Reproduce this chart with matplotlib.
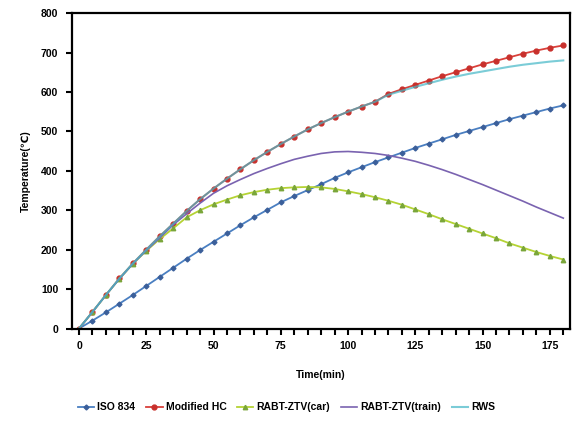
import numpy as np
import matplotlib
matplotlib.use('Agg')
import matplotlib.pyplot as plt
from matplotlib.ticker import MultipleLocator

plt.rcParams['font.family'] = ['Liberation Sans', 'DejaVu Sans']
plt.rcParams['font.weight'] = 'bold'

# time, min (every 5 min)
time = list(range(0, 185, 5))

iso834 = [0, 20, 41, 63, 85, 108, 131, 154, 177, 199, 220, 241, 262, 282, 301, 320,
          336, 351, 366, 382, 396, 409, 422, 434, 446, 458, 469, 480, 491, 501, 511,
          521, 531, 540, 549, 558, 566]
modified_hc = [0, 42, 85, 127, 165, 200, 234, 266, 298, 328, 355, 380, 404, 427, 448,
               468, 487, 505, 521, 536, 550, 563, 575, 595, 607, 618, 629, 640, 650,
               660, 670, 679, 688, 697, 705, 712, 718]
rabt_car = [0, 42, 85, 126, 164, 197, 227, 254, 282, 300, 315, 327, 338, 346, 352, 356,
            358, 359, 358, 354, 348, 341, 333, 324, 314, 302, 290, 277, 265, 253, 241,
            229, 216, 205, 194, 184, 175]
rabt_train = [0, 42, 85, 126, 164, 198, 230, 263, 291, 318, 343, 362, 378, 393, 406,
              418, 429, 437, 444, 448, 449, 447, 444, 439, 432, 424, 414, 403, 391, 378,
              365, 351, 337, 323, 308, 294, 280]
rws = [0, 42, 85, 127, 165, 200, 234, 266, 298, 328, 355, 380, 404, 427, 448, 468, 487,
       505, 521, 536, 550, 563, 575, 593, 603, 613, 622, 631, 639, 646, 652, 658, 664,
       669, 673, 677, 680]

fig = plt.figure(figsize=(5.73, 4.23), dpi=100)
ax = fig.add_axes([0.1257, 0.2234, 0.8691, 0.7456])

ax.plot(time, iso834, color='#4a7fc1', lw=1.3, marker='D', ms=2.5,
        mfc='#3b5f9a', mec='#3b5f9a', label='ISO 834')
ax.plot(time, modified_hc, color='#d9403a', lw=1.3, marker='o', ms=3.5,
        mfc='#c8302c', mec='#c8302c', label='Modified HC')
ax.plot(time, rabt_car, color='#b5d334', lw=1.3, marker='^', ms=3.2,
        mfc='#7aa63a', mec='#7aa63a', label='RABT-ZTV(car)')
ax.plot(time, rabt_train, color='#7a63b0', lw=1.2, label='RABT-ZTV(train)')
ax.plot(time, rws, color='#43b7c6', lw=1.5, alpha=0.7, label='RWS')

ax.set_xlim(-2.6, 182.5)
ax.set_ylim(0, 800)
ax.xaxis.set_major_locator(MultipleLocator(25))
ax.xaxis.set_minor_locator(MultipleLocator(5))
ax.yaxis.set_major_locator(MultipleLocator(100))

ax.tick_params(axis='both', which='both', direction='out', width=1.5, labelsize=7.5,
               top=False, right=False)
ax.tick_params(axis='both', which='major', length=4, pad=6)
ax.tick_params(axis='x', which='minor', length=4)
ax.tick_params(axis='x', which='major', pad=5)
for lab in ax.get_xticklabels() + ax.get_yticklabels():
    lab.set_fontweight('bold')
for s in ax.spines.values():
    s.set_linewidth(1.6)

ax.set_xlabel('Time(min)', fontsize=7.5, fontweight='bold', labelpad=14)
ax.set_ylabel('Temperature(℃)', fontsize=7.5, fontweight='bold', labelpad=7)

fig.legend(loc='center', bbox_to_anchor=(0.5, 0.037), ncol=5, frameon=False,
           fontsize=7.5, handlelength=1.6, handletextpad=0.3, columnspacing=1.0,
           prop={'weight': 'bold', 'size': 7.5})

fig.savefig('out.png', dpi=100)
